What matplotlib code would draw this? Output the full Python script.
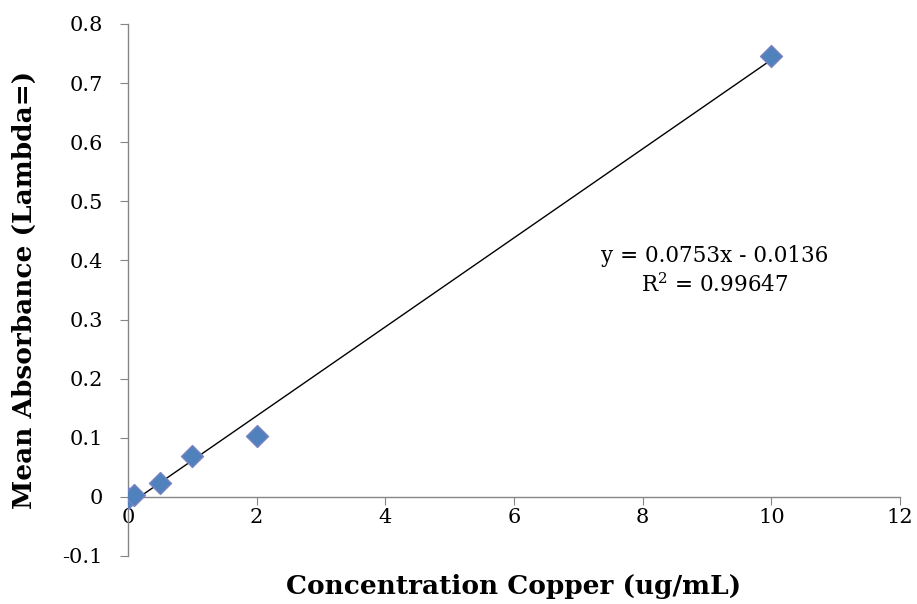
import matplotlib
matplotlib.use("Agg")
import matplotlib.pyplot as plt
import numpy as np

# Copper calibration standards
concentration = [0, 0.1, 0.5, 1, 2, 10]
absorbance = [-0.002, 0.004, 0.024, 0.069, 0.103, 0.745]

# Linear trendline coefficients
slope = 0.0753
intercept = -0.0136
r_squared = 0.99647

x_ticks = [0, 2, 4, 6, 8, 10, 12]
y_ticks = [-0.1, 0, 0.1, 0.2, 0.3, 0.4, 0.5, 0.6, 0.7, 0.8]

plt.rcParams['font.family'] = ['DejaVu Serif']
plt.rcParams['mathtext.fontset'] = 'dejavuserif'

fig = plt.figure(figsize=(9.17, 6.04), dpi=100)
ax = fig.add_axes([0.1396, 0.0795, 0.8419, 0.8808])

axis_color = '#868686'

# trendline across the data range
xs = np.array([min(concentration), max(concentration)])
ax.plot(xs, slope * xs + intercept, color='black', linewidth=1.0, zorder=2)

ax.scatter(concentration, absorbance, marker='D', s=125,
           facecolor='#4F81BD', edgecolor='#7A82C4', linewidth=1.0, zorder=3)

ax.set_xlim(0, 12)
ax.set_ylim(-0.1, 0.8)
ax.set_xticks(x_ticks)
ax.set_xticklabels([f"{v:g}" for v in x_ticks])
ax.set_yticks(y_ticks)
ax.set_yticklabels([f"{v:g}" for v in y_ticks])

for side in ('top', 'right'):
    ax.spines[side].set_visible(False)
ax.spines['bottom'].set_position(('data', 0))
for side in ('left', 'bottom'):
    ax.spines[side].set_color(axis_color)
    ax.spines[side].set_linewidth(1.0)

ax.tick_params(axis='both', direction='out', length=6, color=axis_color,
               labelsize=15, labelcolor='black')
ax.tick_params(axis='y', pad=12)
ax.tick_params(axis='x', pad=2)

ax.set_xlabel('Concentration Copper (ug/mL)', fontsize=19, fontweight='bold')
ax.xaxis.set_label_coords(0.5, -0.034)
ax.set_ylabel('Mean Absorbance (Lambda=)', fontsize=19, fontweight='bold')
ax.yaxis.set_label_coords(-0.118, 0.5)

eq = f"y = {slope}x - {abs(intercept)}\nR$^2$ = {r_squared}"
ax.text(9.12, 0.382, eq, ha='center', va='center', fontsize=15.5,
        linespacing=1.35)

fig.savefig('out.png', dpi=100)
